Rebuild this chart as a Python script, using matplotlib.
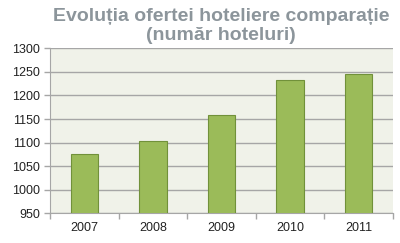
import matplotlib
matplotlib.use("Agg")
import matplotlib.pyplot as plt
import numpy as np

# date
ani = ["2007", "2008", "2009", "2010", "2011"]
hoteluri = [1075, 1104, 1159, 1232, 1245]
yticks = [950, 1000, 1050, 1100, 1150, 1200, 1250, 1300]

fig = plt.figure(figsize=(4, 2.43), dpi=100)
ax = fig.add_axes([0.125, 0.1214, 0.8575, 0.68])
ax.set_facecolor("#f0f2e9")

x = np.arange(len(ani))
ax.bar(x, hoteluri, width=0.4, color="#9bbb59", edgecolor="#71913a",
       linewidth=0.8, zorder=3)

ax.set_ylim(950, 1300)
ax.set_xlim(-0.5, len(ani) - 0.5)
ax.set_yticks(yticks)
ax.set_xticks(x)
ax.set_xticks(np.arange(-0.5, len(ani)), minor=True)
ax.yaxis.grid(True, color="#a6a6a6", linewidth=1.0, zorder=1)

tick_font = ["Liberation Sans Narrow", "Liberation Sans"]
ax.set_xticklabels(ani, fontsize=9, family=tick_font, color="#222222")
ax.set_yticklabels([str(v) for v in yticks], fontsize=9, family=tick_font,
                   color="#222222")
ax.tick_params(axis="x", which="major", length=0, pad=6)
ax.tick_params(axis="x", which="minor", length=4, color="#a6a6a6", width=1)
ax.tick_params(axis="y", length=4, color="#a6a6a6", width=1, pad=3)

for s in ["top", "right"]:
    ax.spines[s].set_visible(False)
ax.spines["left"].set_color("#a6a6a6")
ax.spines["bottom"].set_color("#a6a6a6")

fig.text(0.553, 0.893, "Evoluția ofertei hoteliere comparație\n(număr hoteluri)",
         ha="center", va="center", fontsize=14, fontweight="bold",
         color="#8c959b", family=["Liberation Sans", "DejaVu Sans"],
         linespacing=1.15)

fig.savefig("out.png", dpi=100)
